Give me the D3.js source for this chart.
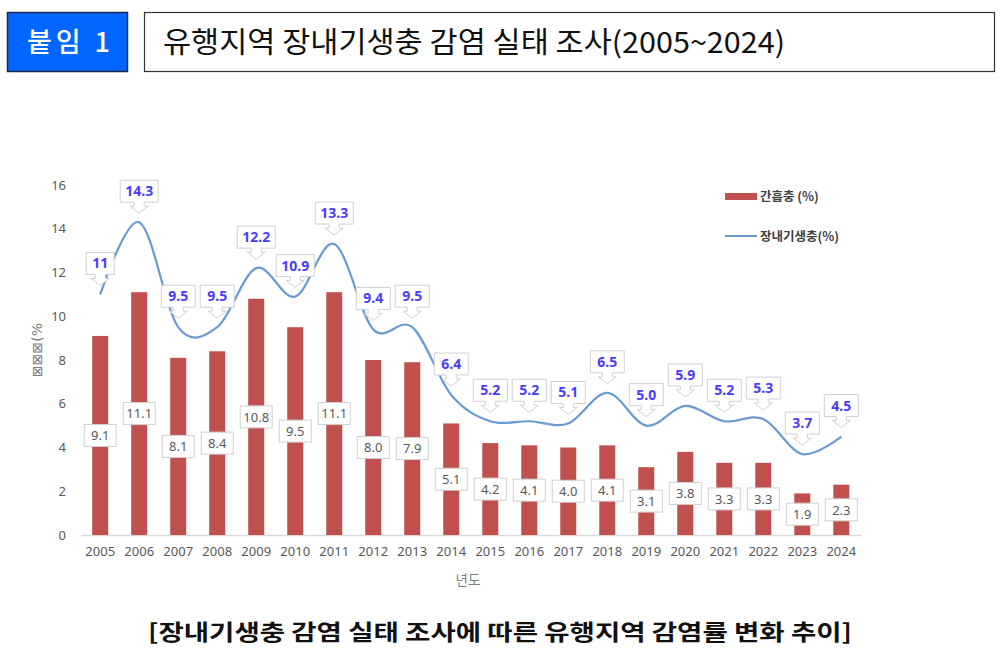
<!DOCTYPE html>
<html>
<head>
<meta charset="utf-8">
<script src="https://cdn.jsdelivr.net/npm/d3@7"></script>
<style>
  body { margin: 0; background: #fff; }
  svg { display: block; }
</style>
</head>
<body>
<svg id="screen" width="1003" height="669"></svg>
<script>
const screenEl = document.querySelector("#screen");

// data
const years = ["2005","2006","2007","2008","2009","2010","2011","2012","2013","2014",
               "2015","2016","2017","2018","2019","2020","2021","2022","2023","2024"];
const clonorchis = [9.1,11.1,8.1,8.4,10.8,9.5,11.1,8.0,7.9,5.1,4.2,4.1,4.0,4.1,3.1,3.8,3.3,3.3,1.9,2.3];
const intestinal = [11,14.3,9.5,9.5,12.2,10.9,13.3,9.4,9.5,6.4,5.2,5.2,5.1,6.5,5.0,5.9,5.2,5.3,3.7,4.5];
const intestinalLabels = ["11","14.3","9.5","9.5","12.2","10.9","13.3","9.4","9.5","6.4",
                          "5.2","5.2","5.1","6.5","5.0","5.9","5.2","5.3","3.7","4.5"];
const yTicks = [0,2,4,6,8,10,12,14,16];
const legendNames = ["간흡충 (%)", "장내기생충(%)"];

const svg = d3.select(screenEl);
const cjk = "'Noto Sans CJK KR', 'Noto Sans', sans-serif";

// header
svg.append("rect").attr("x",7.5).attr("y",12.5).attr("width",120).attr("height",59)
  .attr("fill","#0066ff").attr("stroke","#1a2a4a").attr("stroke-width",1.5);
svg.append("text").attr("x",27).attr("y",52)
  .attr("font-family",cjk).attr("font-size",27).attr("font-weight",500)
  .attr("fill","#fff").attr("textLength",83).attr("lengthAdjust","spacing")
  .text("붙임 1");
svg.append("rect").attr("x",144.5).attr("y",12.5).attr("width",850).attr("height",59)
  .attr("fill","#fff").attr("stroke","#333").attr("stroke-width",1.2);
svg.append("text").attr("x",163).attr("y",53)
  .attr("font-family",cjk).attr("font-size",29).attr("fill","#111")
  .attr("textLength",622).attr("lengthAdjust","spacingAndGlyphs")
  .text("유행지역 장내기생충 감염 실태 조사(2005~2024)");

// scales
const x = d3.scaleBand().domain(years).range([80.5,861]).paddingInner(0.59).paddingOuter(0.3);
const y = d3.scaleLinear().domain([0,16]).range([535,185]);
const cx = d => x(d) + x.bandwidth()/2;

// y axis labels
const yAxis = svg.append("g").attr("transform","translate(66,0)")
  .call(d3.axisLeft(y).tickValues(yTicks).tickSize(0).tickPadding(0));
yAxis.select(".domain").remove();
yAxis.selectAll("text").attr("font-family","'Noto Sans', sans-serif").attr("font-size",13).attr("fill","#595959");

// x axis
const xAxis = svg.append("g").attr("transform","translate(0,535)")
  .call(d3.axisBottom(x).tickSize(0).tickPadding(12));
xAxis.select(".domain").attr("stroke","#d9d9d9").attr("stroke-width",1.5);
xAxis.selectAll("text").attr("font-family","'Noto Sans', sans-serif").attr("font-size",13).attr("fill","#595959");

svg.append("text").attr("x",468).attr("y",585).attr("text-anchor","middle")
  .attr("font-family",cjk).attr("font-size",13.5).attr("fill","#7f7f7f").text("년도");

svg.append("text").attr("transform","translate(42,350) rotate(-90)").attr("text-anchor","middle")
  .attr("font-family","'DejaVu Sans', sans-serif").attr("font-size",14).attr("fill","#7f7f7f")
  .text("⊠⊠⊠(%");

// bars
svg.append("g").selectAll("rect").data(clonorchis).join("rect")
  .attr("x",(d,i) => x(years[i])).attr("y",d => y(d))
  .attr("width",x.bandwidth()).attr("height",d => y(0) - y(d))
  .attr("fill","#c0504d");

// line
const line = d3.line().x((d,i) => cx(years[i])).y(d => y(d)).curve(d3.curveCatmullRom.alpha(0));
svg.append("path").datum(intestinal).attr("d",line)
  .attr("fill","none").attr("stroke","#6a9bd0").attr("stroke-width",2.2);

// bar labels
const barLab = svg.append("g").selectAll("g").data(clonorchis).join("g")
  .attr("transform",(d,i) => `translate(${cx(years[i])},${(y(d)+y(0))/2})`);
barLab.append("rect").attr("x",-16).attr("y",-11).attr("width",32).attr("height",22)
  .attr("fill","#fff").attr("stroke","#d0d0d0").attr("stroke-width",1);
barLab.append("text").attr("text-anchor","middle").attr("dy","0.36em")
  .attr("font-family","'Noto Sans', sans-serif").attr("font-size",13).attr("fill","#595959")
  .text(d => d.toFixed(1));

// line labels with callout arrows
const lineLab = svg.append("g").selectAll("g").data(intestinal).join("g")
  .attr("transform",(d,i) => `translate(${cx(years[i])},${y(d)})`);
lineLab.append("path")
  .attr("d",(d,i) => {
    const w = intestinalLabels[i].length > 3 ? 19 : (intestinalLabels[i].length > 2 ? 17 : 14);
    return `M${-w},-42 H${w} V-20 H5 V-16 H9 L0,-9 L-9,-16 H-5 V-20 H${-w} Z`;
  })
  .attr("fill","#fff").attr("stroke","#d0d0d0").attr("stroke-width",1);
lineLab.append("text").attr("text-anchor","middle").attr("y",-26)
  .attr("font-family","'Noto Sans', sans-serif").attr("font-size",14).attr("font-weight",700)
  .attr("fill","#4a3cff")
  .text((d,i) => intestinalLabels[i]);

// legend
svg.append("rect").attr("x",725).attr("y",193).attr("width",32).attr("height",7).attr("fill","#c0504d");
svg.append("line").attr("x1",725).attr("x2",757).attr("y1",236).attr("y2",236)
  .attr("stroke","#6a9bd0").attr("stroke-width",2);
svg.append("g").selectAll("text").data(legendNames).join("text")
  .attr("x",760).attr("y",(d,i) => 201 + i*40)
  .attr("font-family",cjk).attr("font-size",12.5).attr("font-weight",700).attr("fill","#404040")
  .text(d => d);

// caption
svg.append("text").attr("x",500).attr("y",640).attr("text-anchor","middle")
  .attr("font-family",cjk).attr("font-size",22).attr("font-weight",700).attr("fill","#111")
  .attr("textLength",704).attr("lengthAdjust","spacingAndGlyphs")
  .text("[장내기생충 감염 실태 조사에 따른 유행지역 감염률 변화 추이]");
</script>
</body>
</html>
